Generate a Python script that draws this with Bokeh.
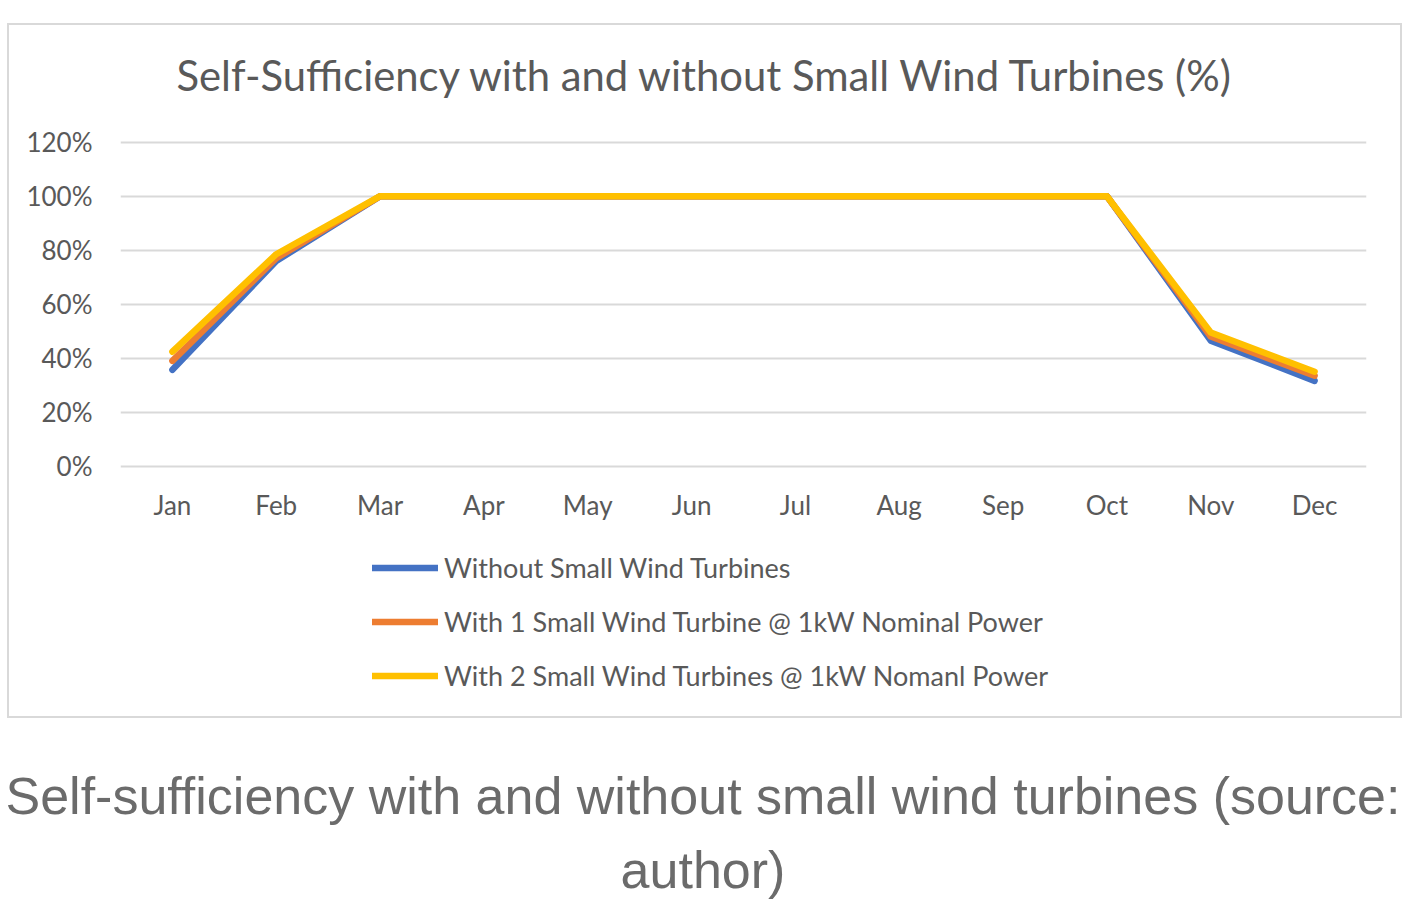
from bokeh.plotting import figure
from bokeh.models import Range1d, NumeralTickFormatter, FixedTicker, Legend, LegendItem, Spacer, ColumnDataSource, Div, Title
from bokeh.layouts import column, row
from bokeh.embed import file_html
from bokeh.resources import INLINE

MONTHS = ["Jan", "Feb", "Mar", "Apr", "May", "Jun", "Jul", "Aug", "Sep", "Oct", "Nov", "Dec"]
WITHOUT = [0.357, 0.760, 1.0, 1.0, 1.0, 1.0, 1.0, 1.0, 1.0, 1.0, 0.465, 0.316]
WITH_1 = [0.390, 0.770, 1.0, 1.0, 1.0, 1.0, 1.0, 1.0, 1.0, 1.0, 0.480, 0.335]
WITH_2 = [0.424, 0.785, 1.0, 1.0, 1.0, 1.0, 1.0, 1.0, 1.0, 1.0, 0.495, 0.350]
SERIES_NAMES = ["Without Small Wind Turbines",
                "With 1 Small Wind Turbine @ 1kW Nominal Power",
                "With 2 Small Wind Turbines @ 1kW Nomanl Power"]
COLORS = ["#4472C4", "#ED7D31", "#FFC000"]
Y_TICKS = [0, 0.2, 0.4, 0.6, 0.8, 1.0, 1.2]
Y_MAX = 1.21
Y_MIN = -0.905   # empty room below the axis for the category labels and the legend
TITLE = "Self-Sufficiency with and without Small Wind Turbines (%)"
CAPTION_LINES = ["Self-sufficiency with and without small wind turbines (source:", "author)"]

FONT = "Lato"
TXT = "#595959"

p = figure(x_range=MONTHS, y_range=Range1d(Y_MIN, Y_MAX), width=1395, height=695,
           output_backend="svg", toolbar_location=None,
           min_border_left=111, min_border_right=38, min_border_top=114, min_border_bottom=10,
           styles={"border": "2px solid #d9d9d9"})
p.outline_line_color = None
p.background_fill_color = "white"
p.border_fill_color = "white"

# a blank spacer title between the frame and the real title, to lift the title
p.add_layout(Title(text=" ", text_font_size="20px", standoff=16, text_color="white"), "above")
p.add_layout(Title(text=TITLE, align="left", offset=56, vertical_align="bottom", standoff=0,
                   text_font=FONT, text_font_style="normal", text_font_size="41.8px",
                   text_color=TXT), "above")

p.yaxis.ticker = FixedTicker(ticks=Y_TICKS)
p.yaxis.formatter = NumeralTickFormatter(format="0%")
p.xaxis.fixed_location = 0
for ax in (p.xaxis[0], p.yaxis[0]):
    ax.axis_line_color = None
    ax.major_tick_line_color = None
    ax.minor_tick_line_color = None
    ax.major_label_text_font = FONT
    ax.major_label_text_font_size = "26px"
    ax.major_label_text_color = TXT
p.yaxis.major_label_standoff = 22
p.xaxis.major_label_standoff = 17
p.xgrid.grid_line_color = None
p.ygrid.grid_line_color = "#d9d9d9"
p.ygrid.grid_line_width = 2

renderers = []
for vals, color in zip([WITHOUT, WITH_1, WITH_2], COLORS):
    src = ColumnDataSource(dict(x=MONTHS, y=vals))
    r = p.line("x", "y", source=src, line_color=color, line_width=6.5, line_join="round", line_cap="round")
    renderers.append(r)

legend = Legend(items=[LegendItem(label=n, renderers=[r]) for n, r in zip(SERIES_NAMES, renderers)],
                location=(252, 18), orientation="vertical",
                glyph_width=66, glyph_height=33, label_height=33, label_standoff=6,
                spacing=21, padding=0, margin=0,
                border_line_color=None, background_fill_alpha=0,
                label_text_font=FONT, label_text_font_size="27px", label_text_color=TXT)
p.add_layout(legend, "center")

caption = Div(text="<br>".join(CAPTION_LINES), width=1396,
              styles={"font-family": "'Liberation Sans', Arial, sans-serif", "font-size": "52px",
                      "line-height": "74px", "color": "#6b6b6b", "text-align": "center",
                      "white-space": "nowrap"})

chart = row(Spacer(width=7), column(Spacer(height=23), p, spacing=0), spacing=0)
layout = column(chart, Spacer(height=36), caption, spacing=0)
open("out.html", "w").write(file_html(layout, INLINE))
